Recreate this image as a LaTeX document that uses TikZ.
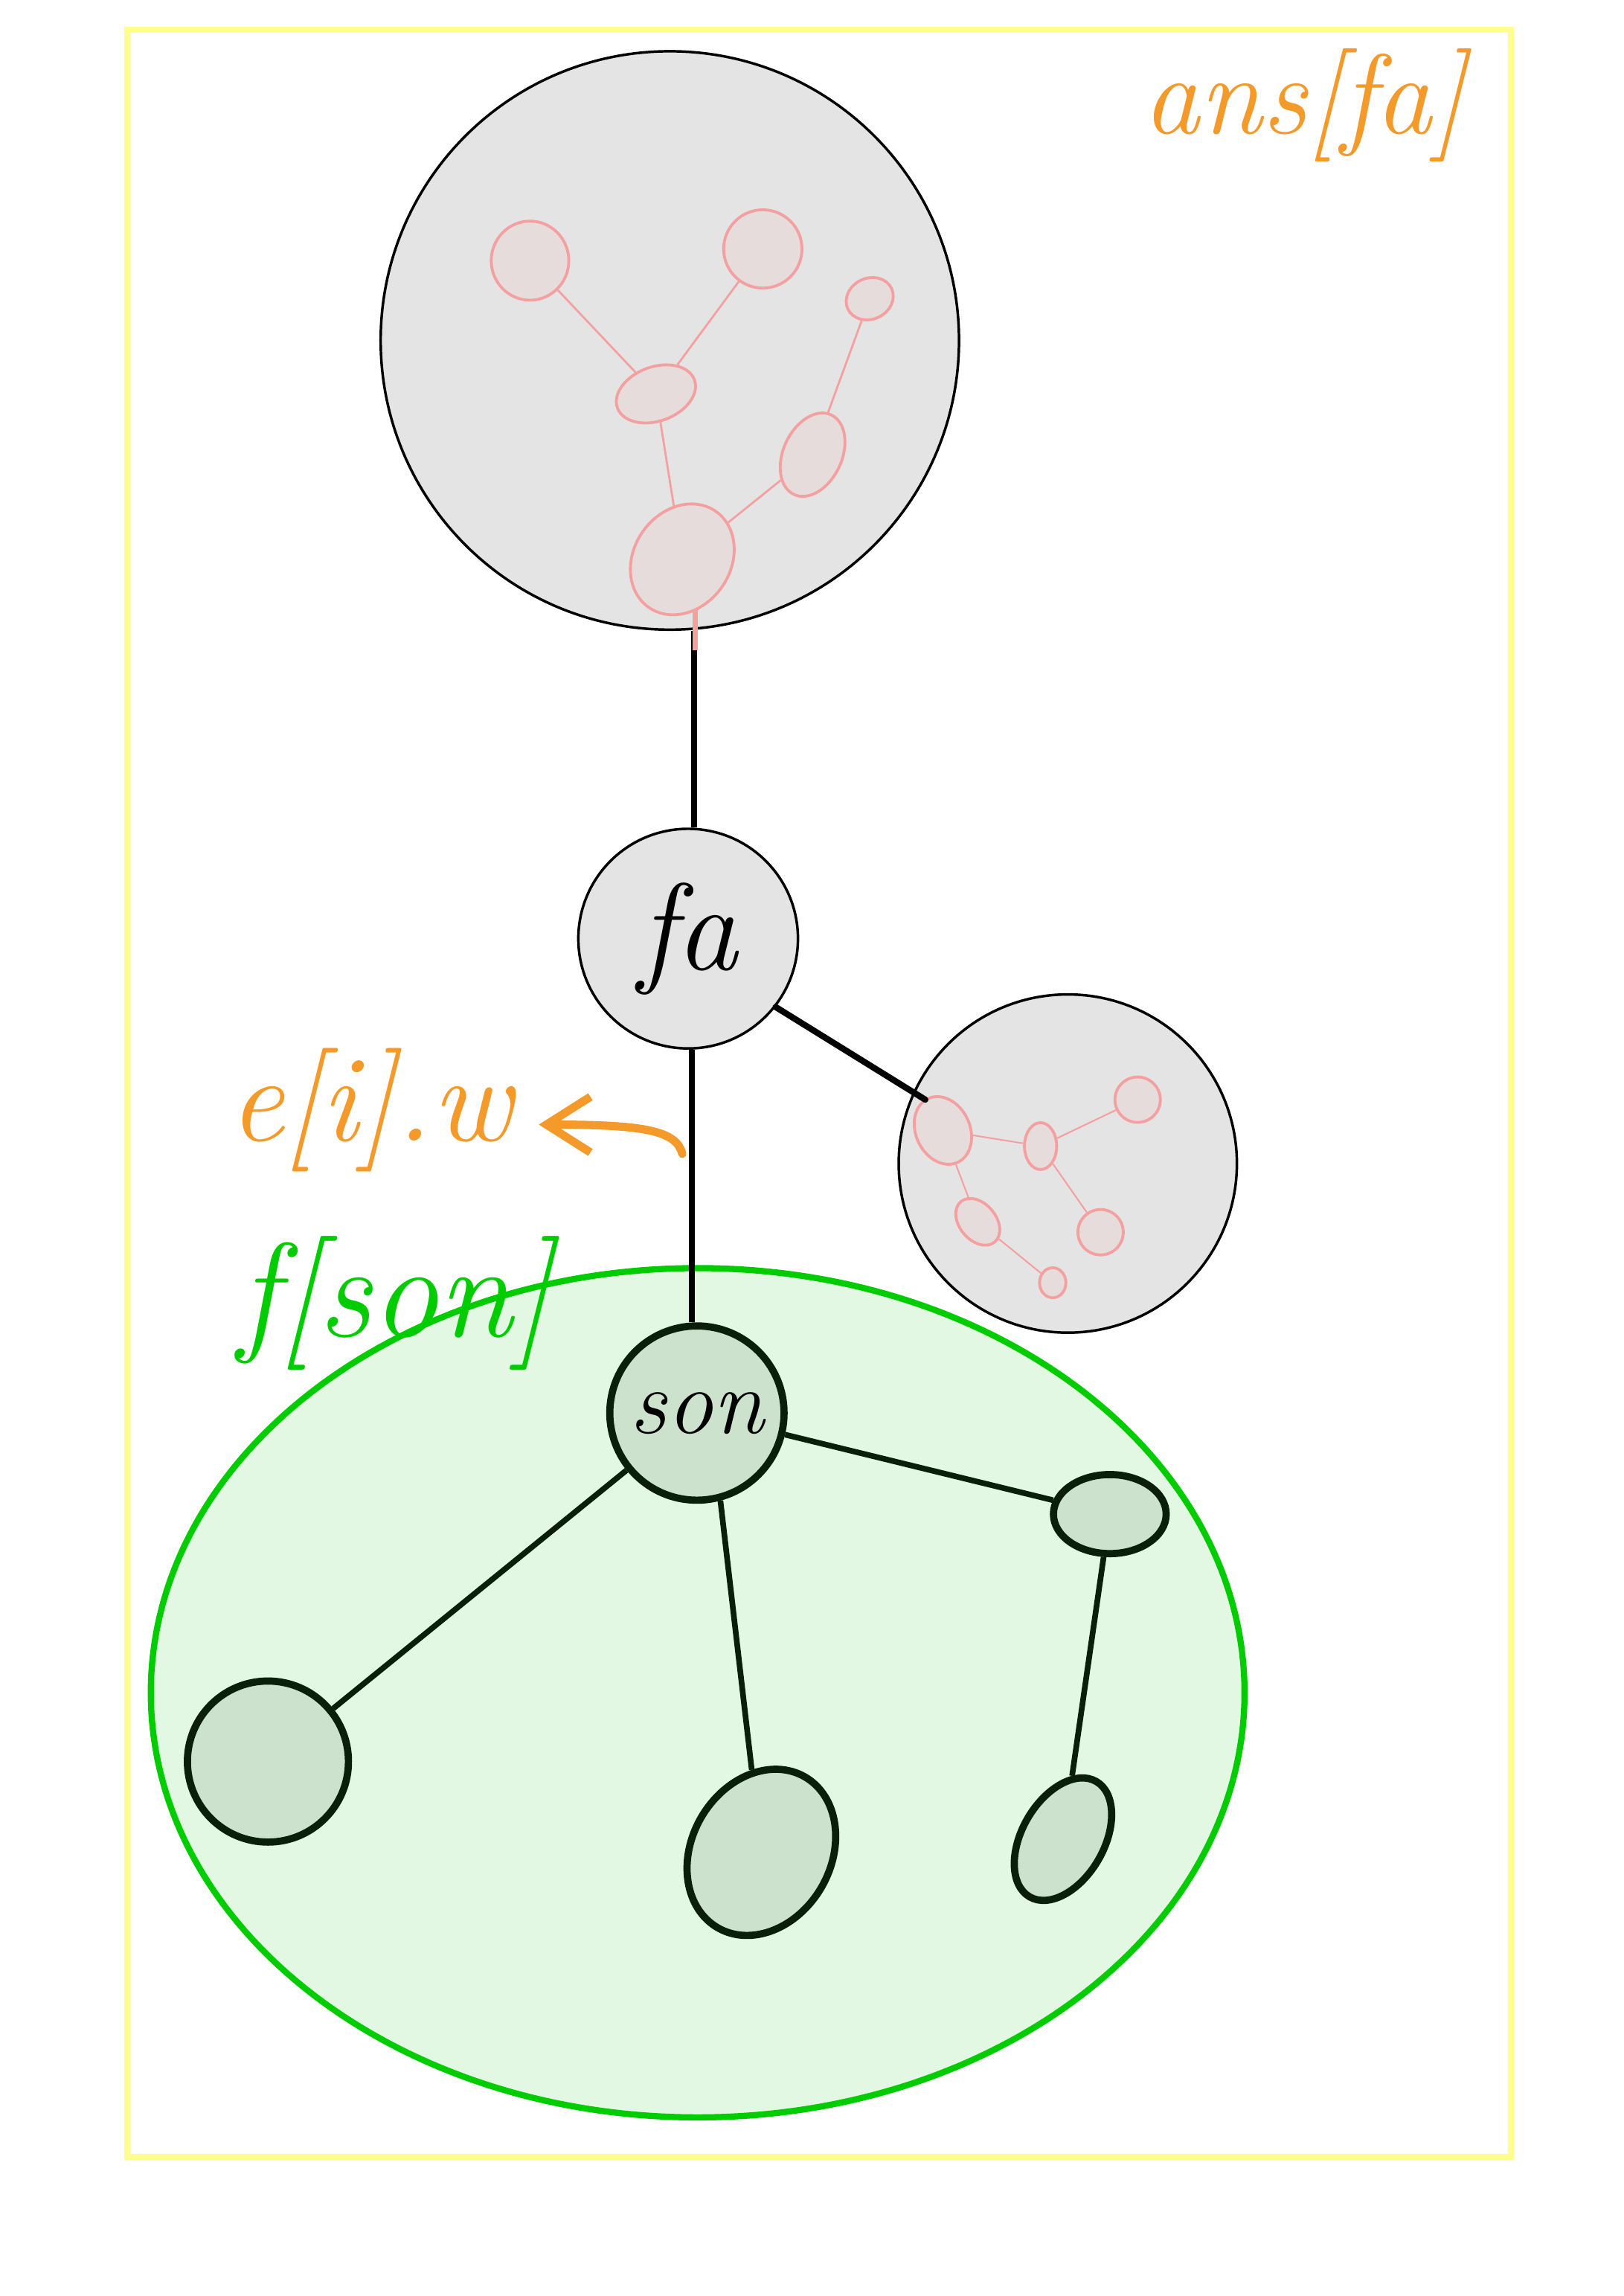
\documentclass[tikz,border=0pt]{standalone}
\usepackage{tikz}
\usetikzlibrary{shapes.geometric,arrows.meta}

\definecolor{framey}{RGB}{255,255,140}
\definecolor{ansorange}{RGB}{243,154,43}
\definecolor{subgray}{RGB}{228,228,228}
\definecolor{pinkln}{RGB}{245,160,160}
\definecolor{pinkfl}{RGB}{230,220,220}
\definecolor{fgreen}{RGB}{0,204,0}
\definecolor{fgreenfill}{RGB}{226,248,226}
\definecolor{gnfill}{RGB}{204,226,204}
\definecolor{darkgn}{RGB}{10,30,10}

\begin{document}
\begin{tikzpicture}[x=0.1mm,y=-0.1mm,
    subtree/.style={circle,draw=black,fill=subgray,line width=0.5pt,inner sep=0},
    pinknode/.style={ellipse,draw=pinkln,fill=pinkfl,line width=0.55pt,inner sep=0},
    pinkedge/.style={draw=pinkln,line width=0.4pt},
    gnnode/.style={ellipse,draw=darkgn,fill=gnfill,line width=1.4pt,inner sep=0},
    gnedge/.style={draw=darkgn,line width=1.1pt},
    blackedge/.style={draw=black,line width=1.2pt}]
    \useasboundingbox (0,0) rectangle (1109,1568);
    \draw[framey,line width=1.1pt] (87,20) rectangle (1032,1473);
    \node[font=\itshape\fontsize{22}{26}\selectfont,text=ansorange] (ansfa) at (891,72) {ans[fa]};

    % upper subtree
    \node[subtree,minimum size=39.5mm] (upper) at (457.5,232.5) {};
    \node[pinknode,minimum width=5.3mm,minimum height=5.4mm] (p1) at (362,178) {};
    \node[pinknode,minimum size=5.35mm] (p2) at (521,170) {};
    \node[pinknode,minimum width=3.3mm,minimum height=2.8mm,rotate=25] (p3) at (594,204) {};
    \node[pinknode,minimum width=5.6mm,minimum height=3.7mm,rotate=20] (p4) at (448,269) {};
    \node[pinknode,minimum width=6mm,minimum height=4mm,rotate=65] (p5) at (555,310.5) {};
    \node[pinknode,minimum width=8mm,minimum height=6.6mm,rotate=55] (p6) at (466,382) {};
    \draw[pinkedge] (p1) -- (p4);
    \draw[pinkedge] (p2) -- (p4);
    \draw[pinkedge] (p4) -- (p6);
    \draw[pinkedge] (p5) -- (p6);
    \draw[pinkedge] (p3) -- (p5);

    % fa and its right subtree
    \node[subtree,minimum size=15mm,font=\itshape\fontsize{24}{28}\selectfont] (fa) at (470,641) {fa};
    \draw[blackedge] (fa.87) -- (fa.87 |- upper.south);
    \draw[draw=pinkln,line width=1pt] (475,416) -- (475,444);

    \node[subtree,minimum size=23.1mm] (right) at (729.3,794.6) {};
    \begin{scope}[every node/.append style={line width=0.35pt}]
    \node[pinknode,minimum width=4.8mm,minimum height=3.7mm,rotate=-65] (q1) at (644,772) {};
    \node[pinknode,minimum width=2.2mm,minimum height=3.2mm] (q2) at (710.7,782.7) {};
    \node[pinknode,minimum size=3.1mm] (q3) at (777,751) {};
    \node[pinknode,minimum width=3.6mm,minimum height=2.5mm,rotate=-50] (q4) at (667.8,834.4) {};
    \node[pinknode,minimum size=3.1mm] (q5) at (751.7,841.5) {};
    \node[pinknode,minimum width=1.8mm,minimum height=2.05mm] (q6) at (719,876) {};
    \end{scope}
    \draw[pinkedge,line width=0.3pt] (q1) -- (q2);
    \draw[pinkedge,line width=0.3pt] (q2) -- (q3);
    \draw[pinkedge,line width=0.3pt] (q2) -- (q5);
    \draw[pinkedge,line width=0.3pt] (q1) -- (q4);
    \draw[pinkedge,line width=0.3pt] (q4) -- (q6);
    \coordinate (q1in) at (632,751);
    \draw[blackedge,line cap=round] (fa.-38) -- (q1in);

    % f[son] part
    \node[ellipse,draw=fgreen,fill=fgreenfill,line width=1.2pt,minimum width=74.7mm,minimum height=58mm] (area) at (476.5,1156) {};
    \node[gnnode,circle,minimum size=11.9mm,font=\itshape\fontsize{18}{22}\selectfont] (son) at (476,965) {son};
    \node[gnnode,circle,minimum size=11mm] (l) at (183,1203) {};
    \node[gnnode,minimum width=11.9mm,minimum height=9.5mm,rotate=60] (m) at (520,1265) {};
    \node[gnnode,minimum width=7.7mm,minimum height=5.4mm] (r1) at (758,1034) {};
    \node[gnnode,minimum width=9.1mm,minimum height=5.6mm,rotate=60] (r2) at (726,1256) {};
    \draw[blackedge] (fa.-88) -- (fa.-88 |- son.north);
    \draw[gnedge] (son) -- (l);
    \draw[gnedge] (son.-75) -- (m);
    \draw[gnedge] (son) -- (r1);
    \draw[gnedge] (r1) -- (r2);

    % labels
    \node[font=\itshape\fontsize{24}{28}\selectfont,text=ansorange] (ew) at (253,758) {e[i].w};
    \coordinate (wfrom) at (466,788);
    \coordinate (wtip) at (368,768);
    \draw[ansorange,line width=1.6pt,line cap=round,-{Straight Barb[length=3mm,width=3.8mm]}] (wfrom) .. controls (462,772) and (440,768) .. (wtip);
    \node[font=\itshape\fontsize{26}{30}\selectfont,text=fgreen] (fson) at (270,890) {f[son]};
\end{tikzpicture}
\end{document}
